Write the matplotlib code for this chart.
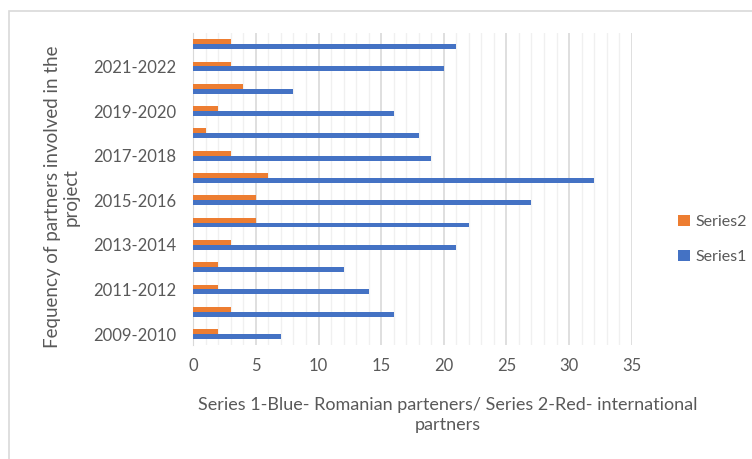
import matplotlib.pyplot as plt
from matplotlib.patches import Rectangle
import numpy as np

# categories from bottom to top
periods = ["2009-2010", "2010-2011", "2011-2012", "2012-2013", "2013-2014",
           "2014-2015", "2015-2016", "2016-2017", "2017-2018", "2018-2019",
           "2019-2020", "2020-2021", "2021-2022", "2022-2023"]
series1 = [7, 16, 14, 12, 21, 22, 27, 32, 19, 18, 16, 8, 20, 21]  # Romanian partners
series2 = [2, 3, 2, 2, 3, 5, 5, 6, 3, 1, 2, 4, 3, 3]  # international partners
x_ticks = [0, 5, 10, 15, 20, 25, 30, 35]

plt.rcParams["font.family"] = ["Lato", "DejaVu Sans"]
text_color = "#595959"

fig = plt.figure(figsize=(7.52, 4.59), dpi=100)
ax = fig.add_axes([0.257, 0.248, 0.583, 0.680])

y = np.arange(len(periods))
h = 0.22
ax.barh(y - h / 2, series1, height=h, color="#4472C4", label="Series1", zorder=3)
ax.barh(y + h / 2, series2, height=h, color="#ED7D31", label="Series2", zorder=3)

ax.set_xlim(0, 35)
ax.set_ylim(-0.5, len(periods) - 0.5)
ax.set_xticks(x_ticks)
ax.set_xticks(np.arange(0, 36, 1), minor=True)
ax.set_yticks(y[::2])
ax.set_yticklabels(periods[::2])
ax.tick_params(axis="both", which="both", length=0, labelsize=12, colors=text_color)
ax.tick_params(axis="x", pad=9)
ax.tick_params(axis="y", pad=12)

ax.grid(axis="x", which="major", color="#D9D9D9", linewidth=1.2, zorder=0)
ax.grid(axis="x", which="minor", color="#F0F0F0", linewidth=1.0, zorder=0)
for s in ["top", "right", "bottom"]:
    ax.spines[s].set_visible(False)
ax.spines["left"].set_color("#D9D9D9")

fig.text(0.082, 0.571, "Fequency of partners involved in the\nproject", rotation=90,
         ha="center", va="center", fontsize=13.5, color=text_color, linespacing=1.15)
fig.text(0.595, 0.096, "Series 1-Blue- Romanian parteners/ Series 2-Red- international\npartners",
         ha="center", va="center", fontsize=13, color=text_color, linespacing=1.25)

handles, labels = ax.get_legend_handles_labels()
fig.legend(handles[::-1], labels[::-1], loc="center left", bbox_to_anchor=(0.883, 0.479),
           frameon=False, fontsize=11.5, labelcolor=text_color, handlelength=0.7,
           handleheight=0.7, handletextpad=0.4, labelspacing=1.3)

fig.patches.append(Rectangle((0.012, -0.1), 1.1, 0.1 + 1 - 0.024, transform=fig.transFigure,
                             fill=False, edgecolor="#D9D9D9", linewidth=1.2))

fig.savefig("out.png", dpi=100)
